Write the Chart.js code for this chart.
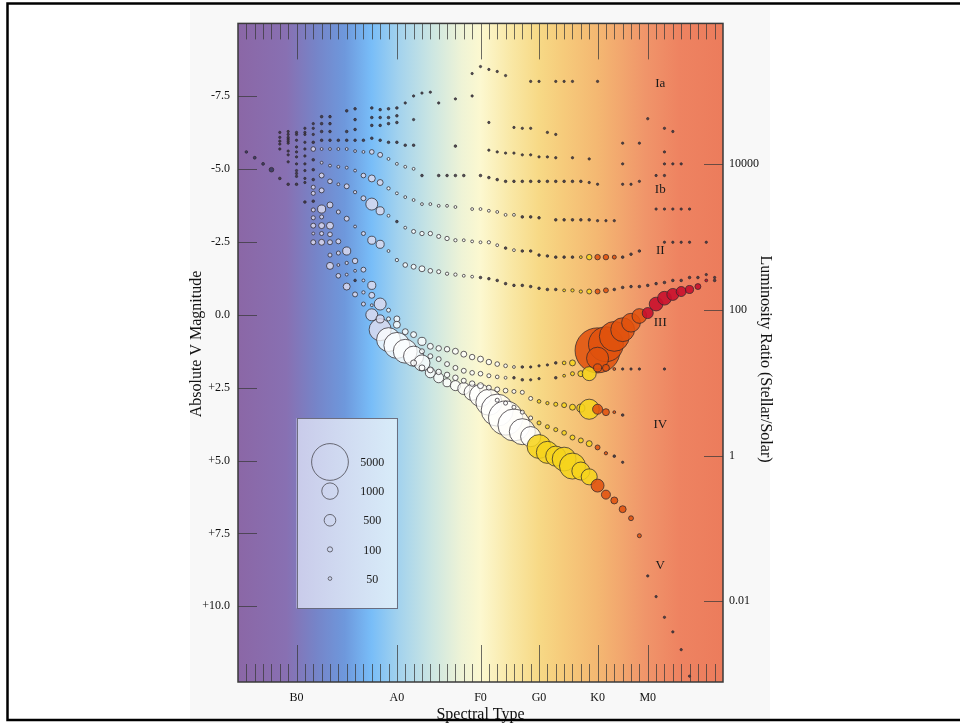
<!DOCTYPE html>
<html><head><meta charset="utf-8">
<script src="https://cdn.jsdelivr.net/npm/chart.js@4.4.1/dist/chart.umd.min.js"></script>
<style>html,body{margin:0;padding:0;background:#fff;}canvas{display:block;}</style>
</head><body>
<canvas id="c" width="960" height="723"></canvas>
<script>
// ---- axis / label data ----
const spectralTicks = [7, 19, 29, 36, 43, 49];
const spectralLabels = ['B0', 'A0', 'F0', 'G0', 'K0', 'M0'];
const magTicks = [-7.5, -5, -2.5, 0, 2.5, 5, 7.5, 10];
const lumTicks = [0.01, 1, 100, 10000];
const classLabels = ['Ia', 'Ib', 'II', 'III', 'IV', 'V'];
const classLabelMags = [-7.95, -4.31, -2.22, 0.27, 3.78, 8.59];
const legendCounts = [5000, 1000, 500, 100, 50];
const legendMags = [5.05, 6.05, 7.05, 8.05, 9.05];

// ---- series: [spectral index, absolute V magnitude, number of stars] ----
const oStars = [[1,-5.59,25],[2,-5.39,30],[3,-5.18,30],[4,-4.98,80],[5,-4.68,25],[6,-4.48,25],[7,-4.48,25]];
const classIa0 = [[28,-8.28,20],[29,-8.52,20],[30,-8.42,20],[31,-8.35,20],[32,-8.21,20],[35,-8.01,20],[36,-8.01,20],[38,-8.01,20],[39,-8.01,20],[40,-8.01,20],[43,-8.01,20]];
const classIa = [[5,-6.26,20],[6,-6.29,20],[7,-6.26,20],[8,-6.40,20],[9,-6.56,20],[10,-6.80,25],[11,-6.80,25],[13,-7.00,25],[14,-7.07,25],[16,-7.10,25],[17,-7.04,25],[18,-7.07,25],[19,-7.10,25],[20,-7.27,20],[21,-7.51,20],[22,-7.61,20],[23,-7.64,20],[24,-7.27,20],[26,-7.41,20],[28,-7.51,20],[49,-6.73,20],[51,-6.40,20],[52,-6.29,20]];
const classIaIab = [[5,-6.09,20],[6,-6.19,20],[7,-6.19,20],[8,-6.26,20],[9,-6.40,20],[10,-6.56,25],[11,-6.56,25],[14,-6.70,25],[16,-6.77,25],[17,-6.77,25],[18,-6.77,25],[19,-6.83,25],[21,-6.70,20],[30,-6.60,20],[33,-6.43,20],[34,-6.40,20],[35,-6.40,20],[37,-6.26,20],[38,-6.19,20],[46,-5.89,20],[48,-5.89,20],[51,-5.59,20]];
const classIab = [[5,-5.96,20],[6,-6.09,20],[7,-5.99,20],[8,-6.19,20],[9,-6.19,20],[10,-6.29,25],[11,-6.29,25],[13,-6.29,25],[14,-6.36,25],[16,-6.50,25],[17,-6.50,25],[18,-6.56,25],[19,-6.60,25],[30,-5.65,20],[31,-5.59,20],[32,-5.55,20],[33,-5.55,20],[34,-5.49,20],[35,-5.49,20],[36,-5.42,20],[37,-5.42,20],[38,-5.39,20],[40,-5.39,20],[42,-5.35,20],[46,-5.18,20],[51,-5.18,20],[52,-5.18,20],[53,-5.18,20]];
const classIabIb = [[5,-5.86,20],[6,-6.03,20],[6,-5.96,20],[7,-5.76,20],[8,-5.92,20],[9,-5.92,25],[10,-5.99,25],[11,-5.99,25],[12,-5.99,25],[13,-5.99,25],[14,-5.99,25],[15,-5.99,25],[16,-6.06,25],[17,-5.99,25],[18,-5.92,25],[19,-5.92,25],[20,-5.82,25],[21,-5.82,25],[26,-5.79,25]];
const classIb = [[5,-5.69,20],[6,-5.89,20],[6,-5.62,20],[7,-5.59,20],[8,-5.69,20],[9,-5.69,80],[10,-5.69,30],[11,-5.69,30],[12,-5.69,30],[13,-5.69,30],[14,-5.62,30],[15,-5.59,30],[16,-5.59,80],[17,-5.49,90],[18,-5.35,30],[19,-5.18,30],[20,-5.08,30],[21,-5.01,30],[22,-4.78,25],[24,-4.78,25],[25,-4.78,25],[26,-4.78,25],[27,-4.78,25],[29,-4.78,25],[30,-4.71,25],[31,-4.64,25],[32,-4.58,25],[33,-4.58,25],[34,-4.58,25],[35,-4.58,25],[36,-4.58,25],[37,-4.58,25],[38,-4.58,25],[39,-4.58,25],[40,-4.58,25],[41,-4.58,25],[42,-4.54,20],[43,-4.48,20],[46,-4.48,20],[47,-4.48,20],[48,-4.58,20],[50,-4.78,20],[51,-4.78,20]];
const classIbII = [[6,-5.49,20],[7,-5.42,20],[8,-5.45,20],[9,-5.32,25],[10,-5.22,30],[11,-5.12,30],[12,-5.08,30],[13,-5.05,30],[14,-4.95,30],[15,-4.78,80],[16,-4.68,180],[17,-4.54,130],[18,-4.34,40],[19,-4.17,30],[20,-4.04,30],[21,-3.94,30],[22,-3.80,30],[23,-3.80,30],[24,-3.74,30],[25,-3.74,30],[26,-3.70,30],[28,-3.63,30],[29,-3.63,30],[30,-3.57,30],[31,-3.53,30],[32,-3.43,30],[33,-3.43,30],[34,-3.36,25],[35,-3.36,25],[36,-3.33,25],[38,-3.26,25],[39,-3.26,25],[40,-3.26,25],[41,-3.26,25],[42,-3.26,25],[43,-3.23,20],[44,-3.23,20],[45,-3.23,20],[50,-3.63,20],[51,-3.63,20],[52,-3.63,20],[53,-3.63,20],[54,-3.63,20]];
const classII = [[6,-5.25,20],[7,-5.18,20],[8,-5.18,20],[9,-4.98,25],[10,-4.78,90],[11,-4.58,80],[12,-4.48,30],[13,-4.41,90],[14,-4.21,40],[15,-4.00,90],[16,-3.80,530],[17,-3.57,240],[18,-3.40,30],[19,-3.20,25],[20,-2.99,30],[21,-2.86,60],[22,-2.79,70],[23,-2.79,70],[24,-2.69,60],[25,-2.62,70],[26,-2.56,40],[27,-2.56,30],[28,-2.52,30],[29,-2.49,30],[30,-2.49,40],[31,-2.39,30],[32,-2.29,25],[33,-2.22,30],[34,-2.19,25],[35,-2.19,25],[36,-2.05,25],[37,-2.02,25],[38,-1.98,25],[39,-1.98,25],[40,-1.98,25],[41,-1.98,30],[42,-1.98,110],[43,-1.98,110],[44,-1.98,110],[45,-1.98,60],[46,-1.98,25],[47,-2.08,25],[48,-2.19,25],[51,-2.49,20],[52,-2.49,20],[53,-2.49,20],[54,-2.49,20],[56,-2.49,20]];
const classIIIII = [[7,-4.95,20],[8,-4.95,20],[9,-4.64,25],[10,-4.27,90],[11,-3.77,130],[12,-3.53,60],[13,-3.30,90],[14,-3.03,30],[15,-2.79,60],[16,-2.56,240],[17,-2.42,240],[18,-2.19,30],[19,-1.88,40],[20,-1.71,80],[21,-1.65,90],[22,-1.58,130],[23,-1.51,80],[24,-1.48,60],[25,-1.41,40],[26,-1.38,40],[27,-1.34,30],[28,-1.31,30],[29,-1.28,25],[30,-1.24,25],[31,-1.18,25],[32,-1.07,25],[33,-1.01,25],[34,-1.01,25],[35,-0.97,25],[36,-0.91,25],[37,-0.87,25],[38,-0.87,25],[39,-0.84,30],[40,-0.84,40],[41,-0.80,40],[42,-0.80,90],[43,-0.80,90],[44,-0.84,90],[45,-0.87,25],[46,-0.94,25],[47,-0.97,25],[48,-0.97,25],[49,-1.01,25],[50,-1.07,25],[51,-1.11,25],[52,-1.18,25],[53,-1.18,25],[54,-1.28,25],[55,-1.28,25],[56,-1.38,20],[57,-1.28,20]];
const classIII = [[7,-4.85,20],[8,-4.68,20],[9,-4.17,60],[10,-3.63,240],[11,-3.06,180],[12,-2.52,90],[13,-2.19,240],[14,-1.85,110],[15,-1.55,90],[16,-1.01,240],[17,-0.37,530],[18,-0.16,60],[19,0.14,130],[20,0.58,130],[21,0.68,130],[22,0.91,240],[23,1.08,130],[24,1.15,110],[25,1.18,110],[26,1.25,130],[27,1.35,130],[28,1.45,110],[29,1.52,130],[30,1.62,110],[31,1.69,80],[32,1.75,50],[33,1.79,30],[34,1.79,25],[35,1.79,20],[36,1.75,20],[37,1.72,20],[38,1.65,25],[39,1.65,50],[40,1.65,130],[43,1.22,7500],[44,1.01,4500],[45,0.74,3300],[46,0.51,2100],[47,0.27,1300],[48,0.04,800],[49,-0.06,450],[50,-0.37,700],[51,-0.57,700],[52,-0.70,530],[53,-0.80,370],[54,-0.87,240],[55,-0.97,130],[56,-1.18,30],[57,-1.18,25]];
const classIIIIV = [[7,-4.75,20],[8,-4.54,20],[9,-3.60,60],[10,-3.36,60],[11,-2.76,80],[12,-2.12,60],[13,-1.78,40],[14,-1.51,30],[15,-1.18,30],[16,-0.67,130],[17,0.14,240],[18,0.14,60],[19,0.34,180],[22,1.25,90],[23,1.42,90],[24,1.52,90],[25,1.69,90],[26,1.82,90],[27,1.92,90],[28,1.99,80],[29,2.02,80],[30,2.09,60],[31,2.13,50],[32,2.16,30],[33,2.16,25],[34,2.23,25],[35,2.23,20],[36,2.19,20],[38,2.16,25],[39,2.09,30],[40,2.02,60],[41,2.02,130],[42,2.02,720],[43,1.49,1800],[43,1.82,240],[44,1.82,180],[45,1.86,30],[46,1.86,20],[47,1.86,20],[48,1.86,20],[51,1.86,20]];
const classIV = [[9,-3.06,90],[10,-2.79,60],[11,-2.49,90],[12,-1.71,30],[13,-1.38,30],[14,-1.18,25],[15,-0.77,40],[16,-0.33,30],[21,1.65,130],[22,1.82,130],[23,1.89,130],[24,1.96,110],[25,2.06,110],[26,2.16,110],[27,2.26,90],[28,2.36,110],[29,2.43,130],[30,2.50,90],[31,2.56,90],[32,2.60,80],[33,2.63,60],[34,2.66,60],[35,2.87,60],[36,2.97,50],[37,3.03,40],[38,3.07,60],[39,3.10,90],[40,3.17,130],[41,3.20,240],[42,3.24,1500],[43,3.24,370],[44,3.34,180],[45,3.34,30],[46,3.44,25]];
const classIVV = [[9,-2.79,30],[10,-2.49,130],[11,-2.05,60],[12,-1.34,80],[13,-0.97,180],[14,-0.70,90],[15,-0.37,60],[16,0.00,530],[31,2.93,60],[32,3.03,60],[33,3.17,60],[34,3.34,60],[35,3.54,60],[36,3.71,60],[37,3.84,60],[38,3.94,60],[39,4.05,80],[40,4.21,90],[41,4.31,90],[42,4.42,130],[43,4.55,90],[44,4.75,40],[45,4.85,25],[46,5.06,20]];
const classV = [[8,-3.87,25],[9,-4.38,60],[9,-3.90,25],[9,-3.33,60],[9,-2.49,90],[10,-3.06,130],[11,-1.68,180],[17,0.51,1800],[18,0.85,2100],[19,1.05,2500],[20,1.25,2100],[21,1.42,1500],[22,1.65,950],[23,1.99,370],[24,2.16,370],[25,2.33,240],[26,2.43,370],[27,2.53,530],[28,2.66,950],[29,2.77,1800],[30,3.00,2500],[31,3.27,3800],[32,3.54,4300],[33,3.78,3800],[34,4.01,2500],[35,4.18,1500],[36,4.52,2100],[37,4.72,1800],[38,4.85,1500],[39,4.95,2100],[40,5.19,2500],[41,5.36,1200],[42,5.56,950],[43,5.86,620],[44,6.17,300],[45,6.37,180],[46,6.67,180],[47,6.98,90],[48,7.58,60],[49,8.96,20],[50,9.67,20],[51,10.38,20],[52,10.88,20],[53,11.49,20],[54,12.40,20]];

// ---- styling ----
const SERIF = '"Liberation Serif", "Times New Roman", serif';
const RADIUS_PER_SQRT = 0.26;
const fills = {
  dark: 'rgba(62,54,66,0.88)',
  slate: 'rgba(58,56,96,0.9)',
  lavender: 'rgba(221,218,238,0.82)',
  white: 'rgba(255,255,255,0.76)',
  yellow: 'rgba(246,212,28,0.86)',
  orange: 'rgba(224,82,14,0.87)',
  red: 'rgba(200,16,44,0.9)'
};
function fillFor(raw) {
  if (!raw) return fills.white;
  const x = raw.x;
  if (x < 5) return fills.slate;
  if (raw.r < 1.35) return fills.dark;
  if (x < 18) return fills.lavender;
  if (x < 36) return fills.white;
  if (x < 43) return fills.yellow;
  if (x < 49) return fills.orange;
  return fills.red;
}
const toBubbles = rows => rows.map(p => ({x: p[0], y: p[1], r: RADIUS_PER_SQRT * Math.sqrt(p[2])}));

const series = [
  ['O', oStars], ['Ia-0', classIa0], ['Ia', classIa], ['Ia-Iab', classIaIab], ['Iab', classIab],
  ['Iab-Ib', classIabIb], ['Ib', classIb], ['Ib-II', classIbII], ['II', classII], ['II-III', classIIIII],
  ['III-IV', classIIIIV], ['IV-V', classIVV], ['IV', classIV], ['III', classIII], ['V', classV]
];

const datasets = [{
  label: 'legend',
  data: legendCounts.map((c, i) => ({x: 11, y: legendMags[i], r: RADIUS_PER_SQRT * Math.sqrt(c)})),
  backgroundColor: 'rgba(0,0,0,0)',
  borderColor: 'rgba(90,90,100,0.9)',
  borderWidth: 1
}].concat(series.map(([name, rows]) => ({
  label: name,
  data: toBubbles(rows),
  backgroundColor: ctx => fillFor(ctx.raw),
  borderColor: 'rgba(45,40,45,0.82)',
  borderWidth: 0.9
})));

const gradStops = [
  [0, '#8b67a6'], [0.10, '#8870b2'], [0.16, '#7684c8'], [0.22, '#6e98dc'], [0.275, '#78bdf8'],
  [0.33, '#a2d2ee'], [0.40, '#cce6e2'], [0.46, '#eef3d6'], [0.50, '#fcf8d0'], [0.565, '#f9e7a4'],
  [0.62, '#f7d986'], [0.67, '#f6cb7b'], [0.74, '#f4b872'], [0.84, '#f0956a'], [0.91, '#ee8361'], [1, '#ec7c5c']
];

const deco = {
  id: 'deco',
  beforeDraw(chart) {
    const ctx = chart.ctx;
    ctx.save();
    ctx.fillStyle = '#ffffff';
    ctx.fillRect(0, 0, chart.width, chart.height);
    ctx.fillStyle = '#f8f8f8';
    ctx.fillRect(190, 0, 580, chart.height);
    ctx.restore();
  },
  beforeDatasetsDraw(chart) {
    const {ctx, chartArea: a, scales: {x, y}} = chart;
    ctx.save();
    const g = ctx.createLinearGradient(a.left, 0, a.right, 0);
    gradStops.forEach(s => g.addColorStop(s[0], s[1]));
    ctx.fillStyle = g;
    ctx.fillRect(a.left, a.top, a.right - a.left, a.bottom - a.top);
    // legend box
    const bx1 = x.getPixelForValue(7), bx2 = x.getPixelForValue(19);
    const by1 = y.getPixelForValue(3.55), by2 = y.getPixelForValue(10.07);
    const lg = ctx.createLinearGradient(bx1, 0, bx2, 0);
    lg.addColorStop(0, '#c9cbea'); lg.addColorStop(1, '#d8ecf9');
    ctx.fillStyle = lg;
    ctx.fillRect(bx1, by1, bx2 - bx1, by2 - by1);
    ctx.strokeStyle = 'rgba(100,100,115,0.9)';
    ctx.lineWidth = 1;
    ctx.strokeRect(Math.round(bx1) + 0.5, Math.round(by1) + 0.5, Math.round(bx2 - bx1), Math.round(by2 - by1));
    ctx.restore();
  },
  afterDatasetsDraw(chart) {
    const {ctx, chartArea: a, scales: {x, y, y2}} = chart;
    ctx.save();
    ctx.strokeStyle = 'rgba(55,55,55,0.72)';
    ctx.lineWidth = 1;
    ctx.beginPath();
    for (let v = 1; v < 58; v++) {
      const px = Math.round(x.getPixelForValue(v)) + 0.5;
      const major = spectralTicks.includes(v);
      ctx.moveTo(px, a.top); ctx.lineTo(px, a.top + (major ? 36 : 16));
      ctx.moveTo(px, a.bottom); ctx.lineTo(px, a.bottom - (major ? 37 : 18));
    }
    magTicks.forEach(v => {
      const py = Math.round(y.getPixelForValue(v)) + 0.5;
      ctx.moveTo(a.left, py); ctx.lineTo(a.left + 19, py);
    });
    lumTicks.forEach(v => {
      const py = Math.round(y2.getPixelForValue(v)) + 0.5;
      ctx.moveTo(a.right, py); ctx.lineTo(a.right - 19, py);
    });
    ctx.stroke();
    ctx.strokeStyle = '#3a3a3a';
    ctx.lineWidth = 1.5;
    ctx.strokeRect(a.left, a.top, a.right - a.left, a.bottom - a.top);
    ctx.fillStyle = '#1a1a1a';
    ctx.textAlign = 'center';
    ctx.textBaseline = 'middle';
    ctx.font = '13px ' + SERIF;
    classLabels.forEach((t, i) => ctx.fillText(t, x.getPixelForValue(50.5), y.getPixelForValue(classLabelMags[i])));
    ctx.font = '12px ' + SERIF;
    legendCounts.forEach((c, i) => ctx.fillText(String(c), x.getPixelForValue(16.05), y.getPixelForValue(legendMags[i]) + 1));
    ctx.restore();
  },
  afterDraw(chart) {
    const {ctx, chartArea: a} = chart;
    ctx.save();
    ctx.fillStyle = '#111';
    ctx.font = '16px ' + SERIF;
    ctx.textAlign = 'center';
    ctx.textBaseline = 'middle';
    ctx.save(); ctx.translate(a.left - 41, 344); ctx.rotate(-Math.PI / 2); ctx.fillText('Absolute V Magnitude', 0, 0); ctx.restore();
    ctx.save(); ctx.translate(a.right + 42, 359); ctx.rotate(Math.PI / 2); ctx.fillText('Luminosity Ratio (Stellar/Solar)', 0, 0); ctx.restore();
    ctx.fillText('Spectral Type', (a.left + a.right) / 2, 715);
    ctx.strokeStyle = '#000';
    ctx.lineWidth = 2.5;
    ctx.strokeRect(7.5, 3.5, 980, 716.5);
    ctx.restore();
  }
};

const tickFont = {family: SERIF, size: 12};
const MAG_MIN = -10, MAG_MAX = 12.6, SUN_MV = 4.83;

new Chart(document.getElementById('c'), {
  type: 'bubble',
  data: {datasets},
  options: {
    responsive: false,
    animation: false,
    events: [],
    layout: {padding: {top: 11, left: 0, right: 0, bottom: 0}},
    plugins: {legend: {display: false}, tooltip: {enabled: false}},
    scales: {
      x: {
        type: 'linear', position: 'bottom', min: 0, max: 58,
        grid: {display: false, drawTicks: false}, border: {display: false},
        afterBuildTicks: s => { s.ticks = spectralTicks.map(v => ({value: v})); },
        ticks: {
          autoSkip: false, maxRotation: 0, padding: 9, color: '#111', font: tickFont,
          callback: v => { const i = spectralTicks.indexOf(v); return i >= 0 ? spectralLabels[i] : ''; }
        },
        afterFit: s => { s.height = 41; }
      },
      y: {
        type: 'linear', position: 'left', reverse: true, min: MAG_MIN, max: MAG_MAX,
        grid: {display: false, drawTicks: false}, border: {display: false},
        afterBuildTicks: s => { s.ticks = magTicks.map(v => ({value: v})); },
        ticks: {
          autoSkip: false, padding: 8, color: '#111', font: tickFont,
          callback: v => v === 0 ? '0.0' : (v > 0 ? '+' : '') + v.toFixed(1)
        },
        afterFit: s => { s.width = 238; }
      },
      y2: {
        type: 'logarithmic', position: 'right',
        min: Math.pow(10, (SUN_MV - MAG_MAX) / 2.5), max: Math.pow(10, (SUN_MV - MAG_MIN) / 2.5),
        grid: {display: false, drawTicks: false}, border: {display: false},
        afterBuildTicks: s => { s.ticks = lumTicks.map(v => ({value: v})); },
        ticks: {autoSkip: false, padding: 6, color: '#111', font: tickFont, callback: v => String(v)},
        afterFit: s => { s.width = 237; }
      }
    }
  },
  plugins: [deco]
});
</script>
</body></html>
